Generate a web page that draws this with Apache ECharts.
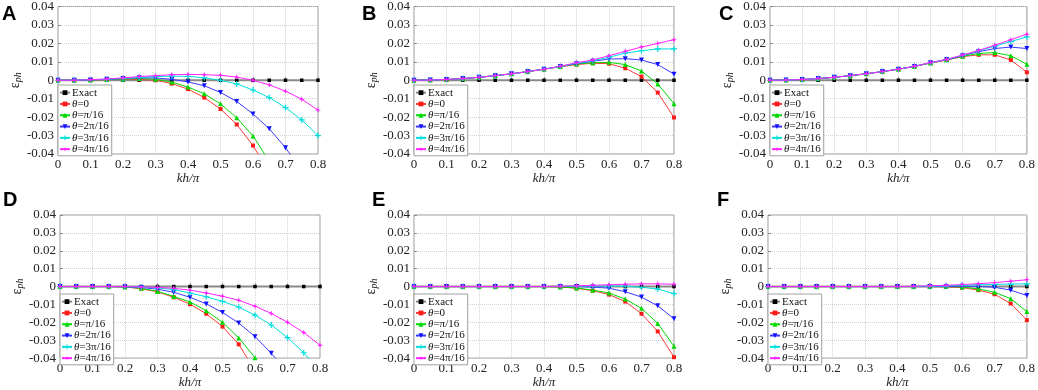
<!DOCTYPE html>
<html>
<head>
<meta charset="utf-8">
<script src="https://cdn.jsdelivr.net/npm/echarts@6/dist/echarts.min.js"></script>
<style>
  html, body { margin: 0; padding: 0; background: #fff; }
  #chart { width: 1038px; height: 390px; }
</style>
</head>
<body>
<div id="chart"></div>
<script>
// kh/pi sample points
const kh = [0, 0.05, 0.1, 0.15, 0.2, 0.25, 0.3, 0.35, 0.4, 0.45, 0.5, 0.55, 0.6, 0.65, 0.7, 0.75, 0.8];
const seriesNames = ['Exact', 'θ=0', 'θ=π/16', 'θ=2π/16', 'θ=3π/16', 'θ=4π/16'];
const exact = [0, 0, 0, 0, 0, 0, 0, 0, 0, 0, 0, 0, 0, 0, 0, 0, 0];

// panel A
const A_t0 = [0, 0, 0.0002, 0.0003, 0.0005, 0.0004, 0, -0.0018, -0.0048, -0.0094, -0.0156, -0.024, -0.0354, -0.05, null, null, null];
const A_t1 = [0, 0, 0.0002, 0.0004, 0.0007, 0.0009, 0.0006, -0.001, -0.0037, -0.0073, -0.0128, -0.0204, -0.0302, -0.044, null, null, null];
const A_t2 = [0, 0, 0.0002, 0.0005, 0.0009, 0.0013, 0.0013, 0.0005, -0.0009, -0.003, -0.0066, -0.0115, -0.0183, -0.0263, -0.0366, -0.049, null];
const A_t3 = [0, 0, 0.0003, 0.0006, 0.001, 0.0015, 0.002, 0.0022, 0.0021, 0.0013, 0, -0.002, -0.0053, -0.0094, -0.0148, -0.0215, -0.030];
const A_t4 = [0, 0, 0.0003, 0.0007, 0.0013, 0.002, 0.0025, 0.003, 0.0032, 0.003, 0.0027, 0.0017, 0, -0.0025, -0.0059, -0.0103, -0.0162];

// panel B
const B_t0 = [0, 0.0001, 0.0004, 0.0009, 0.0016, 0.0025, 0.0035, 0.0047, 0.006, 0.0073, 0.0085, 0.0092, 0.009, 0.0065, 0.002, -0.0067, -0.0202];
const B_t1 = [0, 0.0001, 0.0004, 0.0009, 0.0016, 0.0025, 0.0035, 0.0047, 0.006, 0.0074, 0.0088, 0.0095, 0.0097, 0.0085, 0.005, -0.002, -0.0127];
const B_t2 = [0, 0.0001, 0.0004, 0.0009, 0.0016, 0.0025, 0.0035, 0.0047, 0.006, 0.0075, 0.009, 0.0103, 0.0115, 0.0117, 0.011, 0.0085, 0.0033];
const B_t3 = [0, 0.0001, 0.0004, 0.0009, 0.0016, 0.0025, 0.0035, 0.0047, 0.006, 0.0075, 0.0093, 0.0106, 0.0125, 0.0147, 0.016, 0.017, 0.017];
const B_t4 = [0, 0.0001, 0.0004, 0.0009, 0.0016, 0.0025, 0.0035, 0.0047, 0.006, 0.0076, 0.0095, 0.011, 0.0133, 0.0157, 0.018, 0.020, 0.022];

// panel C
const C_t0 = [0, 0.0001, 0.0004, 0.0009, 0.0016, 0.0025, 0.0035, 0.0047, 0.006, 0.0075, 0.0093, 0.011, 0.0128, 0.0138, 0.0138, 0.011, 0.0043];
const C_t1 = [0, 0.0001, 0.0004, 0.0009, 0.0016, 0.0025, 0.0035, 0.0047, 0.006, 0.0075, 0.0094, 0.0111, 0.013, 0.0145, 0.015, 0.0133, 0.0087];
const C_t2 = [0, 0.0001, 0.0004, 0.0009, 0.0016, 0.0025, 0.0035, 0.0047, 0.006, 0.0075, 0.0095, 0.0112, 0.0133, 0.0155, 0.0172, 0.018, 0.0172];
const C_t3 = [0, 0.0001, 0.0004, 0.0009, 0.0016, 0.0025, 0.0035, 0.0047, 0.006, 0.0076, 0.0095, 0.0113, 0.0135, 0.016, 0.0185, 0.021, 0.0235];
const C_t4 = [0, 0.0001, 0.0004, 0.0009, 0.0016, 0.0025, 0.0035, 0.0047, 0.006, 0.0076, 0.0096, 0.0113, 0.0137, 0.0162, 0.019, 0.022, 0.025];

// panel D
const D_t0 = [0, 0, 0, 0, -0.0002, -0.0012, -0.003, -0.006, -0.0099, -0.0152, -0.0224, -0.0323, -0.047, null, null, null, null];
const D_t1 = [0, 0, 0, 0, -0.0002, -0.001, -0.0027, -0.0055, -0.0086, -0.0135, -0.020, -0.0287, -0.0398, null, null, null, null];
const D_t2 = [0, 0, 0, 0, -0.0001, -0.0005, -0.0015, -0.0032, -0.006, -0.0097, -0.0145, -0.0204, -0.028, -0.0373, -0.048, null, null];
const D_t3 = [0, 0, 0, 0, 0, -0.0003, -0.0008, -0.0017, -0.0036, -0.0057, -0.0083, -0.0115, -0.016, -0.0215, -0.0285, -0.037, -0.0475];
const D_t4 = [0, 0, 0, 0, 0, -0.0002, -0.0005, -0.001, -0.002, -0.0036, -0.0054, -0.0077, -0.011, -0.015, -0.020, -0.0257, -0.0328];

// panel E
const E_t0 = [0, 0, 0, 0, 0, 0, 0, 0, 0, -0.0002, -0.001, -0.0023, -0.0045, -0.0084, -0.0152, -0.0251, -0.0395];
const E_t1 = [0, 0, 0, 0, 0, 0, 0, 0, 0, -0.0002, -0.0008, -0.002, -0.0036, -0.007, -0.0122, -0.0206, -0.0334];
const E_t2 = [0, 0, 0, 0, 0, 0, 0, 0, 0, 0, 0, -0.0003, -0.0009, -0.0029, -0.0059, -0.0108, -0.018];
const E_t3 = [0, 0, 0, 0, 0, 0, 0, 0, 0, 0.0001, 0.0002, 0.0003, 0.0003, 0.0002, -0.0004, -0.0014, -0.0039];
const E_t4 = [0, 0, 0, 0, 0, 0, 0, 0, 0, 0.0002, 0.0004, 0.0007, 0.001, 0.0013, 0.0015, 0.0015, 0.0013];

// panel F
const F_t0 = [0, 0, 0, 0, 0, 0, 0, 0, 0, 0, 0, -0.0002, -0.0006, -0.002, -0.0043, -0.0095, -0.0188];
const F_t1 = [0, 0, 0, 0, 0, 0, 0, 0, 0, 0, 0, 0, -0.0003, -0.0013, -0.0032, -0.0068, -0.014];
const F_t2 = [0, 0, 0, 0, 0, 0, 0, 0, 0, 0, 0, 0, 0.0002, 0.0001, -0.0004, -0.002, -0.005];
const F_t3 = [0, 0, 0, 0, 0, 0, 0, 0, 0, 0, 0.0002, 0.0004, 0.0007, 0.001, 0.0012, 0.0014, 0.0015];
const F_t4 = [0, 0, 0, 0, 0, 0, 0, 0, 0, 0.0002, 0.0004, 0.0007, 0.0011, 0.0016, 0.0022, 0.003, 0.0038];

const panels = [
  { label: 'A', rows: [exact, A_t0, A_t1, A_t2, A_t3, A_t4] },
  { label: 'B', rows: [exact, B_t0, B_t1, B_t2, B_t3, B_t4] },
  { label: 'C', rows: [exact, C_t0, C_t1, C_t2, C_t3, C_t4] },
  { label: 'D', rows: [exact, D_t0, D_t1, D_t2, D_t3, D_t4] },
  { label: 'E', rows: [exact, E_t0, E_t1, E_t2, E_t3, E_t4] },
  { label: 'F', rows: [exact, F_t0, F_t1, F_t2, F_t3, F_t4] }
];

// layout (pixels)
const boxes = [
  { left: 58, top: 6, gap: 9 }, { left: 414, top: 6, gap: 9 }, { left: 770, top: 6, gap: 9 },
  { left: 60, top: 215, gap: 12 }, { left: 414, top: 215, gap: 12 }, { left: 768, top: 215, gap: 12 }
];
const letterPos = [[2, 4], [362, 4], [719, 4], [3, 190], [372, 190], [717, 190]];
const W = 260, H = 148;
const FONT = '"Liberation Serif", "Times New Roman", serif';

const styles = [
  { color: '#000', line: '#8a8a8a', width: 2, symbol: 'rect', size: 3.5 },
  { color: '#ff1a1a', line: '#ff3a3a', width: 1, symbol: 'rect', size: 4 },
  { color: '#00d800', line: '#00d800', width: 1, symbol: 'triangle', size: 5 },
  { color: '#1010ff', line: '#3a3aff', width: 1, symbol: 'triangle', size: 5, rotate: 180 },
  { color: '#00dede', line: '#00dede', width: 1, symbol: 'path://M4,0H6V4H10V6H6V10H4V6H0V4H4Z', size: 6 },
  { color: '#ff22ff', line: '#ff22ff', width: 1, symbol: 'path://M5,0L6.2,3.8L10,5L6.2,6.2L5,10L3.8,6.2L0,5L3.8,3.8Z', size: 6 }
];

const grid = [], xAxis = [], yAxis = [], series = [], legend = [], graphic = [];

panels.forEach((p, i) => {
  const b = boxes[i];
  grid.push({ left: b.left, top: b.top, width: W, height: H, show: true, borderColor: '#9a9a9a', borderWidth: 1, backgroundColor: '#fff' });
  xAxis.push({
    type: 'value', gridIndex: i, min: 0, max: 0.8, interval: 0.1,
    name: 'kh/π', nameLocation: 'middle', nameGap: b.gap,
    nameTextStyle: { fontFamily: FONT, fontStyle: 'italic', fontSize: 13, color: '#222' },
    axisLine: { show: false },
    axisTick: { show: true, inside: true, length: 3, lineStyle: { color: '#888' } },
    axisLabel: { fontFamily: FONT, fontSize: 13, color: '#222', margin: 4 },
    splitLine: { show: true, lineStyle: { color: '#d2d2d2', type: 'dotted', width: 1 } }
  });
  yAxis.push({
    type: 'value', gridIndex: i, min: -0.04, max: 0.04, interval: 0.01,
    name: '{e|ε}{s|ph}', nameLocation: 'middle', nameGap: 31, nameRotate: 90,
    nameTextStyle: {
      rich: {
        e: { fontFamily: FONT, fontSize: 14, color: '#222' },
        s: { fontFamily: FONT, fontStyle: 'italic', fontSize: 10, color: '#222', padding: [6, 0, 0, 0] }
      }
    },
    axisLine: { show: false },
    axisTick: { show: true, inside: true, length: 3, lineStyle: { color: '#888' } },
    axisLabel: { fontFamily: FONT, fontSize: 13, color: '#222', margin: 4 },
    splitLine: { show: true, lineStyle: { color: '#d2d2d2', type: 'dotted', width: 1 } }
  });
  p.rows.forEach((vals, k) => {
    const s = styles[k];
    series.push({
      type: 'line', name: seriesNames[k], xAxisIndex: i, yAxisIndex: i,
      data: kh.map((x, j) => [x, vals[j]]),
      symbol: s.symbol, symbolSize: s.size, symbolRotate: s.rotate || 0,
      showAllSymbol: true, connectNulls: false, clip: true,
      itemStyle: { color: s.color },
      lineStyle: { color: s.line, width: s.width },
      emphasis: { disabled: true },
      z: 2 + k
    });
  });
  legend.push({
    data: seriesNames, orient: 'vertical',
    left: b.left, top: b.top + 79,
    itemWidth: 10, itemHeight: 6, itemGap: 0,
    padding: [2, 3, 1, 1],
    backgroundColor: '#fff', borderColor: '#a0a0a0', borderWidth: 1, borderRadius: 0,
    selectedMode: false,
    formatter: n => n.replace('θ', '{i|θ}'),
    textStyle: {
      fontFamily: FONT, fontSize: 11, color: '#111', lineHeight: 11.3, padding: [0, 0, 0, -3],
      rich: { i: { fontFamily: FONT, fontStyle: 'italic', fontSize: 11, color: '#111', lineHeight: 11.3 } }
    }
  });
  graphic.push({
    type: 'text', left: letterPos[i][0], top: letterPos[i][1],
    style: { text: p.label, fontFamily: '"Liberation Sans", Arial, sans-serif', fontWeight: 'bold', fontSize: 20, fill: '#000' }
  });
});

const chart = echarts.init(document.getElementById('chart'), null, { renderer: 'canvas' });
chart.setOption({
  animation: false,
  backgroundColor: '#fff',
  grid, xAxis, yAxis, series, legend, graphic
});
</script>
</body>
</html>
